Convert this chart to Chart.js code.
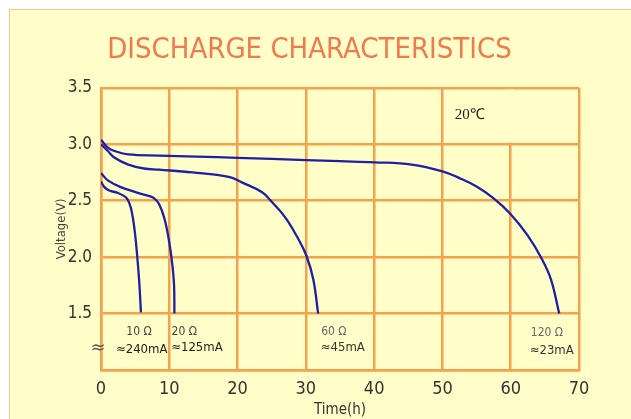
<!DOCTYPE html>
<html>
<head>
<meta charset="utf-8">
<script src="https://cdn.jsdelivr.net/npm/chart.js@4.4.1/dist/chart.umd.min.js"></script>
<style>
  html, body { margin: 0; padding: 0; background: #fff; width: 631px; height: 419px; overflow: hidden; }
  #panel { position: absolute; left: 9px; top: 9px; width: 640px; height: 420px; background: #FFFDC8; border: 1px solid #F8C48A; }
  #chart { position: absolute; left: 0; top: 0; }
</style>
</head>
<body>
<div id="panel"></div>
<canvas id="chart" width="631" height="419"></canvas>
<script>
// --- values ---
const seriesNames = ['10 Ω', '20 Ω', '60 Ω', '120 Ω'];

const hours10 = [0, 0.5, 1.2, 2.4, 3.4, 3.9, 4.4, 4.9, 5.3, 5.6, 5.85];
const volts10 = [2.67, 2.62, 2.59, 2.57, 2.54, 2.51, 2.43, 2.25, 2.01, 1.78, 1.51];

const hours20 = [0, 1, 2.9, 5.4, 7.1, 7.8, 8.5, 9.3, 10, 10.45, 10.7, 10.75];
const volts20 = [2.745, 2.68, 2.62, 2.57, 2.54, 2.52, 2.47, 2.34, 2.13, 1.93, 1.75, 1.50];

const hours60 = [0, 1, 2, 4, 6.3, 8.5, 13.4, 18.7, 20.7, 23.6, 25, 27, 28.9, 30.1, 31.1, 31.8];
const volts60 = [3.00, 2.94, 2.88, 2.82, 2.785, 2.775, 2.75, 2.71, 2.66, 2.575, 2.49, 2.35, 2.16, 2.01, 1.80, 1.50];

const hours120 = [0, 1, 2, 4, 8.5, 14, 20, 30, 35, 40, 45.5, 50, 52.5, 55, 57.5, 60, 62.5, 64.5, 65.9, 67.1];
const volts120 = [3.04, 2.97, 2.94, 2.91, 2.90, 2.89, 2.88, 2.86, 2.85, 2.84, 2.82, 2.76, 2.70, 2.625, 2.52, 2.38, 2.19, 1.99, 1.80, 1.50];

const curveLabels = ['10 Ω', '≈240mA', '20 Ω', '≈125mA', '60 Ω', '≈45mA', '120 Ω', '≈23mA'];
const labelHours  = [5.56, 5.96, 12.2, 14.05, 34.1, 35.4, 65.3, 66.0];
const labelVolts  = [1.34, 1.18, 1.34, 1.195, 1.34, 1.195, 1.33, 1.17];

const tempLabel = '20℃';
const tempAt = [54.0, 3.26];

const panelColor = '#FFFDC8';
const gridColor = '#F5A24C';
const lineColor = '#1F1FA3';
const narrow = "'Liberation Sans Narrow', 'DejaVu Sans Condensed', sans-serif";

function points(hs, vs) {
  return hs.map((h, i) => ({ x: h, y: vs[i] }));
}

const allHours = [hours10, hours20, hours60, hours120];
const allVolts = [volts10, volts20, volts60, volts120];

const datasets = seriesNames.map((name, i) => ({
  label: name,
  data: points(allHours[i], allVolts[i]),
  borderColor: lineColor,
  borderWidth: 2.3,
  pointRadius: 0,
  fill: false,
  tension: 0.4
}));

// texts on the plot + the gap in the 60h gridline above 3.0 V
const textLayer = {
  id: 'textLayer',
  beforeDatasetsDraw(chart) {
    const { ctx, scales: { x, y } } = chart;
    const px = x.getPixelForValue(60);
    const top = y.getPixelForValue(3.5);
    ctx.save();
    ctx.fillStyle = panelColor;
    ctx.fillRect(px - 2.5, top + 1.5, 5, y.getPixelForValue(3.0) - top - 3);
    ctx.restore();
  },
  afterDatasetsDraw(chart) {
    const { ctx, scales: { x, y } } = chart;
    ctx.save();
    ctx.textAlign = 'center';
    ctx.textBaseline = 'middle';
    curveLabels.forEach((t, i) => {
      const ohm = t.includes('Ω');
      ctx.font = ohm ? "12px " + narrow : "13px " + narrow;
      ctx.fillStyle = i < 4 ? (ohm ? '#444' : '#222') : (ohm ? '#666' : '#333');
      ctx.fillText(t, x.getPixelForValue(labelHours[i]), y.getPixelForValue(labelVolts[i]));
    });
    // axis break mark
    ctx.font = "18px 'DejaVu Sans', sans-serif";
    ctx.fillStyle = '#555';
    ctx.fillText('≈', x.getPixelForValue(0) - 3, y.getPixelForValue(1.195));
    // temperature
    ctx.font = "15px 'Liberation Serif', serif";
    ctx.fillStyle = '#222';
    ctx.fillText(tempLabel, x.getPixelForValue(tempAt[0]), y.getPixelForValue(tempAt[1]));
    ctx.restore();
  }
};

new Chart(document.getElementById('chart'), {
  type: 'line',
  data: { datasets },
  plugins: [textLayer],
  options: {
    responsive: false,
    animation: false,
    layout: { padding: { left: 0, right: 12, top: 0, bottom: 0 } },
    plugins: {
      legend: { display: false },
      tooltip: { enabled: false },
      title: {
        display: true,
        text: 'DISCHARGE CHARACTERISTICS',
        color: '#F07A4E',
        font: { family: narrow, size: 29, weight: 'normal' },
        padding: { top: 33, bottom: 20 }
      }
    },
    scales: {
      x: {
        type: 'linear',
        min: 0,
        max: 70,
        ticks: { stepSize: 10, color: '#333', font: { family: narrow, size: 18 }, padding: 9 },
        grid: { color: gridColor, lineWidth: 2.5, drawTicks: false },
        border: { color: gridColor, width: 2.5 },
        title: { display: true, text: 'Time(h)', color: '#333', font: { family: narrow, size: 15 }, padding: { top: 0, bottom: 0 } },
        afterFit: s => { s.height = 49; }
      },
      y: {
        min: 1,
        max: 3.5,
        ticks: {
          stepSize: 0.5,
          color: '#333',
          font: { family: narrow, size: 17 },
          padding: 9,
          callback: v => (v === 1 ? '' : v.toFixed(1))
        },
        grid: { color: gridColor, lineWidth: 2.5, drawTicks: false },
        border: { color: gridColor, width: 2.5 },
        title: { display: true, text: 'Voltage(V)', color: '#444', font: { family: narrow, size: 13 }, padding: { top: 54, bottom: 0 } },
        afterFit: s => { s.width = 101; }
      },
      yRight: {
        position: 'right',
        display: true,
        min: 1,
        max: 3.5,
        ticks: { display: false },
        grid: { display: false },
        border: { display: false },
        afterFit: s => { s.width = 40; }
      }
    }
  }
});
</script>
</body>
</html>
